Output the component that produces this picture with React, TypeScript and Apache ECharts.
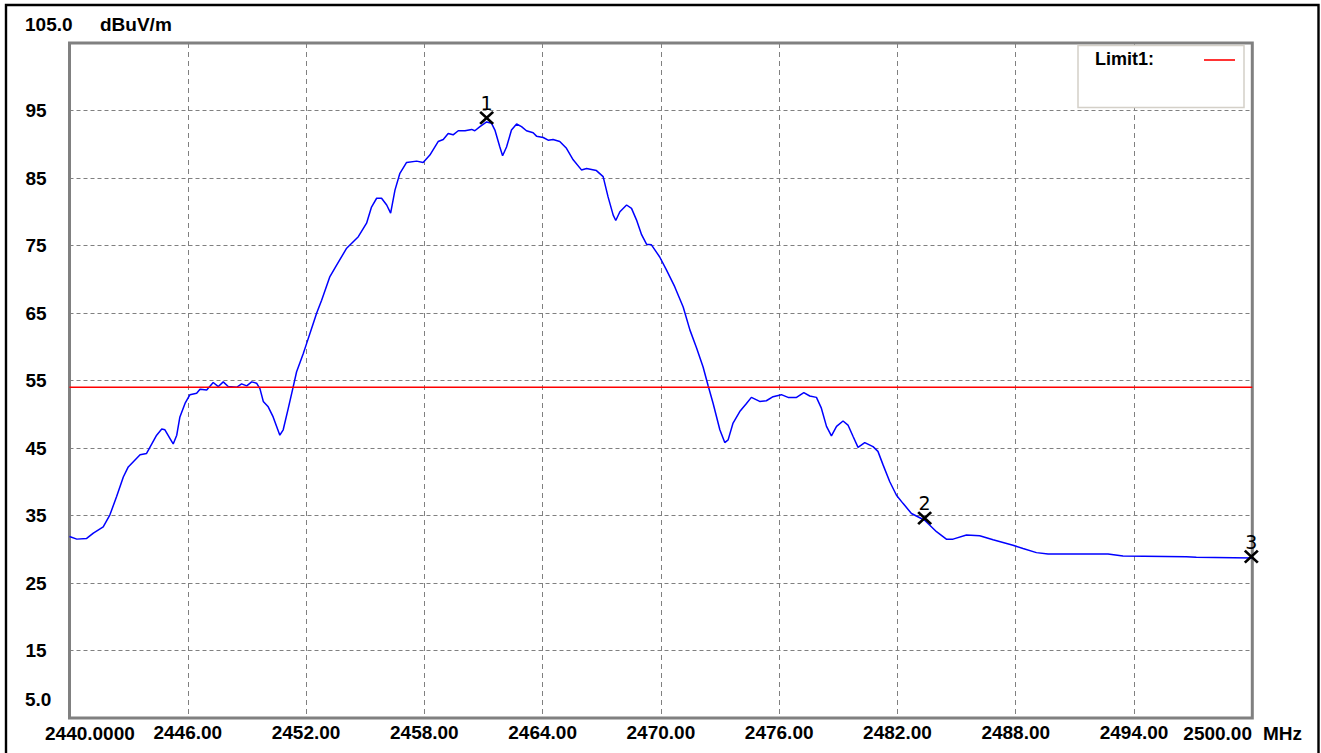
import React, { useEffect, useRef } from "react";
import * as echarts from "echarts";

// Frequency (MHz) of each traced point of the measured curve
const freqs: number[] = [
  2440.0, 2440.37, 2440.87, 2441.21, 2441.71, 2442.05, 2442.39, 2442.73, 2442.98, 2443.58,
  2443.91, 2444.42, 2444.68, 2444.84, 2445.1, 2445.26, 2445.44, 2445.6, 2445.86, 2446.11,
  2446.45, 2446.62, 2446.96, 2447.29, 2447.55, 2447.8, 2448.05, 2448.48, 2448.73, 2448.99,
  2449.24, 2449.49, 2449.66, 2449.83, 2450.08, 2450.33, 2450.67, 2450.84, 2451.1, 2451.35,
  2451.52, 2451.86, 2452.03, 2452.28, 2452.54, 2452.79, 2453.21, 2453.55, 2454.06, 2454.65,
  2455.07, 2455.32, 2455.58, 2455.83, 2456.09, 2456.29, 2456.51, 2456.76, 2457.1, 2457.61,
  2457.94, 2458.28, 2458.7, 2458.96, 2459.21, 2459.46, 2459.72, 2460.06, 2460.4, 2460.56,
  2460.82, 2461.16, 2461.41, 2461.58, 2461.83, 2461.97, 2462.17, 2462.42, 2462.68, 2462.93,
  2463.18, 2463.52, 2463.69, 2464.03, 2464.28, 2464.53, 2464.87, 2465.21, 2465.55, 2465.97,
  2466.23, 2466.73, 2467.07, 2467.32, 2467.58, 2467.71, 2467.92, 2468.26, 2468.51, 2468.76,
  2469.02, 2469.27, 2469.52, 2469.94, 2470.28, 2470.7, 2471.13, 2471.47, 2471.81, 2472.14,
  2472.39, 2472.65, 2472.99, 2473.24, 2473.41, 2473.66, 2474.0, 2474.34, 2474.59, 2475.01,
  2475.35, 2475.69, 2476.11, 2476.45, 2476.88, 2477.25, 2477.55, 2477.89, 2478.14, 2478.4,
  2478.65, 2478.91, 2479.24, 2479.49, 2479.75, 2480.0, 2480.34, 2480.76, 2481.01, 2481.27,
  2481.61, 2481.95, 2482.28, 2482.71, 2483.38, 2483.98, 2484.48, 2484.82, 2485.5, 2486.17,
  2486.85, 2487.86, 2488.37, 2489.05, 2489.64, 2492.68, 2493.44, 2496.65, 2497.16, 2500.0,
];

// Level (dBuV/m) of each traced point
const levels: number[] = [
  31.9, 31.5, 31.6, 32.4, 33.3, 35.1, 37.8, 40.7, 42.2, 44.0,
  44.2, 46.9, 47.8, 47.7, 46.4, 45.6, 46.9, 49.6, 51.6, 52.9,
  53.1, 53.7, 53.6, 54.7, 54.1, 54.8, 54.1, 54.0, 54.5, 54.2,
  54.8, 54.6, 53.8, 51.9, 51.1, 49.6, 46.9, 47.7, 50.9, 54.1,
  56.3, 59.0, 60.5, 62.7, 65.0, 66.9, 70.4, 72.1, 74.6, 76.3,
  78.3, 80.7, 82.0, 82.0, 81.0, 79.8, 83.2, 85.7, 87.3, 87.5,
  87.3, 88.4, 90.4, 90.7, 91.6, 91.4, 92.0, 92.0, 92.2, 92.0,
  92.6, 93.3, 93.1, 92.1, 89.6, 88.3, 89.6, 92.1, 93.0, 92.6,
  92.0, 91.7, 91.2, 91.0, 90.6, 90.7, 90.4, 89.4, 87.7, 86.2,
  86.4, 86.1, 85.2, 82.2, 79.5, 78.7, 80.0, 81.0, 80.5, 78.8,
  76.6, 75.2, 75.1, 73.3, 71.4, 68.9, 65.9, 62.5, 59.8, 57.0,
  54.3, 51.6, 47.7, 45.8, 46.2, 48.7, 50.4, 51.6, 52.5, 51.9,
  52.0, 52.6, 52.9, 52.5, 52.5, 53.2, 52.7, 52.5, 50.9, 48.2,
  46.8, 48.2, 49.0, 48.4, 46.7, 45.1, 45.8, 45.2, 44.5, 42.5,
  40.0, 38.0, 36.8, 35.3, 34.3, 32.6, 31.5, 31.5, 32.1, 32.0,
  31.4, 30.6, 30.1, 29.5, 29.3, 29.3, 29.0, 28.9, 28.8, 28.7,
];

const limitName = "Limit1:";
const limitValue = 54.0;

const markerNames: string[] = ["1", "2", "3"];
const markerFreqs: number[] = [2461.16, 2483.38, 2499.95];
const markerLevels: number[] = [93.9, 34.6, 28.9];

const xMin = 2440;
const xMax = 2500;
const xStep = 6;
const yMin = 5;
const yMax = 105;
const yStep = 10;
const xMinLabel = "2440.0000";
const xMaxLabel = "2500.00";
const yMinLabel = "5.0";
const yMaxLabel = "105.0";
const xUnit = "MHz";
const yUnit = "dBuV/m";

const FONT = "'Liberation Sans', Arial, sans-serif";

export default function App() {
  const ref = useRef<HTMLDivElement>(null);

  useEffect(() => {
    if (!ref.current) return;
    const chart = echarts.init(ref.current, undefined, { renderer: "svg" });

    const trace = freqs.map((f, i) => [f, levels[i]]);
    const limit = [
      [xMin, limitValue],
      [xMax, limitValue],
    ];
    const markers = markerNames.map((n, i) => ({ name: n, value: [markerFreqs[i], markerLevels[i]] }));

    const boldText = { fontFamily: FONT, fontWeight: "bold" as const, fontSize: 19, fill: "#000" };

    chart.setOption({
      animation: false,
      backgroundColor: "#ffffff",
      textStyle: { fontFamily: FONT },
      grid: {
        left: 69.5,
        top: 43,
        width: 1182.8,
        height: 675,
        show: true,
        borderColor: "#808080",
        borderWidth: 3,
        backgroundColor: "transparent",
        z: 3,
      },
      xAxis: {
        type: "value",
        min: xMin,
        max: xMax,
        interval: xStep,
        axisLine: { show: false },
        axisTick: { show: false },
        splitLine: { show: true, lineStyle: { color: "#808080", type: [5, 4], width: 1 } },
        axisLabel: {
          showMinLabel: false,
          showMaxLabel: false,
          margin: 5,
          color: "#000",
          fontFamily: FONT,
          fontWeight: "bold",
          fontSize: 19,
          formatter: (v: number) => v.toFixed(2),
        },
      },
      yAxis: {
        type: "value",
        min: yMin,
        max: yMax,
        interval: yStep,
        axisLine: { show: false },
        axisTick: { show: false },
        splitLine: { show: true, lineStyle: { color: "#808080", type: [4, 3], width: 1 } },
        axisLabel: {
          showMinLabel: false,
          showMaxLabel: false,
          align: "left",
          margin: 44,
          padding: [0, 0, 4, 0],
          color: "#000",
          fontFamily: FONT,
          fontWeight: "bold",
          fontSize: 19,
          formatter: (v: number) => String(v),
        },
      },
      series: [
        {
          type: "line",
          name: "trace",
          data: trace,
          showSymbol: false,
          symbol: "none",
          lineStyle: { color: "#0000ff", width: 1.5 },
          z: 4,
        },
        {
          type: "line",
          name: limitName,
          data: limit,
          showSymbol: false,
          symbol: "none",
          lineStyle: { color: "#ff0000", width: 1.6 },
          z: 4,
        },
        {
          type: "scatter",
          name: "markers",
          data: markers,
          clip: false,
          symbol: "path://M0,0L13,12M13,0L0,12",
          symbolSize: [13, 12],
          itemStyle: { color: "rgba(0,0,0,0)", borderColor: "#000", borderWidth: 2.6, opacity: 1 },
          label: {
            show: true,
            position: "top",
            distance: -2,
            formatter: (p: any) => p.name,
            color: "#000",
            fontFamily: "'DejaVu Sans', sans-serif",
            fontSize: 19,
          },
          z: 6,
        },
      ],
      graphic: [
        {
          type: "rect",
          shape: { x: 6, y: 5, width: 1312.5, height: 760 },
          style: { fill: "none", stroke: "#000", lineWidth: 2.4 },
          silent: true,
          z: 10,
        },
        {
          type: "text",
          x: 25,
          y: 24,
          style: { ...boldText, text: yMaxLabel, verticalAlign: "middle" },
        },
        {
          type: "text",
          x: 100,
          y: 24,
          style: { ...boldText, text: yUnit, verticalAlign: "middle" },
        },
        {
          type: "text",
          x: 25,
          y: 699,
          style: { ...boldText, text: yMinLabel, verticalAlign: "middle" },
        },
        {
          type: "text",
          x: 45,
          y: 733,
          style: { ...boldText, text: xMinLabel, verticalAlign: "middle" },
        },
        {
          type: "text",
          x: 1252,
          y: 733,
          style: { ...boldText, text: xMaxLabel, textAlign: "right", verticalAlign: "middle" },
        },
        {
          type: "text",
          x: 1263,
          y: 733,
          style: { ...boldText, text: xUnit, verticalAlign: "middle" },
        },
        {
          type: "rect",
          shape: { x: 1078, y: 45.5, width: 166, height: 62 },
          style: { fill: "#ffffff", stroke: "#d4d0c8", lineWidth: 1.5 },
          z: 20,
        },
        {
          type: "text",
          x: 1095,
          y: 59,
          z: 21,
          style: { ...boldText, fontSize: 18, text: limitName, verticalAlign: "middle" },
        },
        {
          type: "line",
          shape: { x1: 1204, y1: 60, x2: 1235, y2: 60 },
          style: { stroke: "#ff0000", lineWidth: 1.6 },
          z: 21,
        },
      ],
    });

    return () => {
      chart.dispose();
    };
  }, []);

  return (
    <div
      ref={ref}
      style={{ position: "fixed", left: 0, top: 0, width: "1321px", height: "753px", background: "#fff" }}
    />
  );
}
